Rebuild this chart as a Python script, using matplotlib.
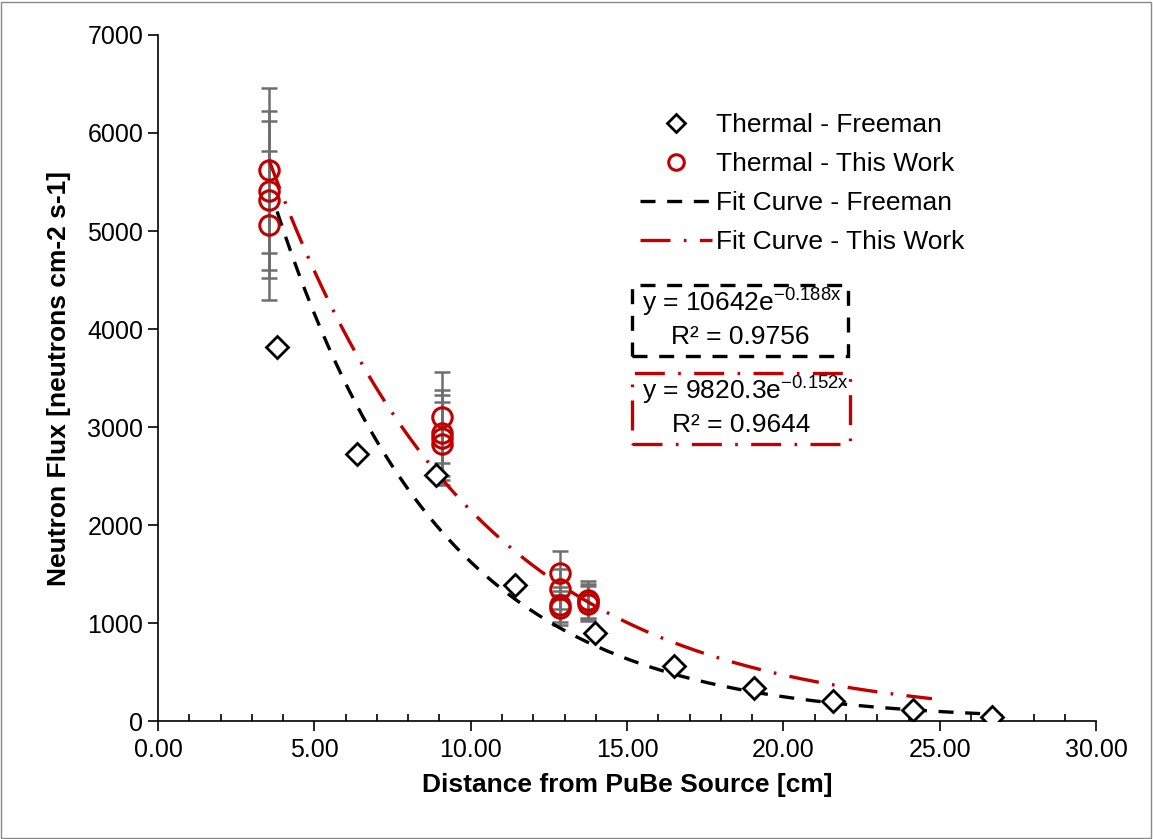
import numpy as np
import matplotlib.pyplot as plt
from matplotlib.patches import Rectangle

plt.rcParams['font.family'] = ['Liberation Sans', 'DejaVu Sans']
plt.rcParams['mathtext.fontset'] = 'custom'
plt.rcParams['mathtext.rm'] = 'Liberation Sans'
plt.rcParams['mathtext.it'] = 'Liberation Sans'

''' Data '''
freeman_x = [3.81, 6.35, 8.89, 11.43, 13.97, 16.51, 19.05, 21.59, 24.13, 26.67]
freeman_y = [3820, 2720, 2510, 1390, 900, 560, 340, 205, 115, 40]

work_x = [3.56, 3.56, 3.56, 3.56, 9.08, 9.08, 9.08, 9.08, 12.85, 12.85, 12.85, 12.85, 13.75, 13.75, 13.75]
work_y = [5620, 5410, 5320, 5060, 3100, 2940, 2890, 2830, 1510, 1345, 1185, 1150, 1240, 1220, 1195]
work_err = [0.15 * v for v in work_y]

fit_freeman = (10642, -0.188)
fit_work = (9820.3, -0.152)
fit_freeman_range = (3.81, 26.67)
fit_work_range = (3.56, 24.75)

red = '#C00000'
gray = '#6E6E6E'

''' Plotting '''
fig = plt.figure(figsize=(11.53, 8.39), dpi=100)
ax = fig.add_axes([0.137, 0.1406, 0.8137, 0.8177])

ax.errorbar(work_x, work_y, yerr=work_err, fmt='none', ecolor=gray, elinewidth=1.8,
            capsize=6, capthick=1.8, zorder=2)

xf = np.linspace(fit_freeman_range[0], fit_freeman_range[1], 200)
ax.plot(xf, fit_freeman[0] * np.exp(fit_freeman[1] * xf), color='black', lw=2.4,
        dashes=(4.5, 3.5), label='Fit Curve - Freeman', zorder=3)
xw = np.linspace(fit_work_range[0], fit_work_range[1], 200)
ax.plot(xw, fit_work[0] * np.exp(fit_work[1] * xw), color=red, lw=2.4,
        dashes=(9, 4, 0.8, 4), label='Fit Curve - This Work', zorder=3)

ax.plot(freeman_x, freeman_y, 'D', ms=11, mfc='white', mec='black', mew=2,
        label='Thermal - Freeman', zorder=4)
ax.plot(work_x, work_y, 'o', ms=14, mfc='none', mec=red, mew=2.2,
        label='Thermal - This Work', zorder=5)

ax.set_xlim(0, 30)
ax.set_ylim(0, 7000)
ax.set_xticks(np.arange(0, 31, 5))
ax.set_xticklabels(['{:.2f}'.format(v) for v in np.arange(0, 31, 5)])
ax.set_xticks(np.arange(0, 31, 1), minor=True)
ax.set_yticks(np.arange(0, 7001, 1000))
ax.tick_params(axis='both', which='major', labelsize=18, direction='out', length=7, width=1.2)
ax.tick_params(axis='x', which='minor', direction='in', length=5, width=1.2)
ax.tick_params(axis='x', pad=5)
for s in ['top', 'right']:
    ax.spines[s].set_visible(False)
for s in ['left', 'bottom']:
    ax.spines[s].set_linewidth(1.2)

ax.set_xlabel('Distance from PuBe Source [cm]', fontsize=19, weight='bold', labelpad=8)
ax.set_ylabel('Neutron Flux [neutrons cm-2 s-1]', fontsize=19, weight='bold', labelpad=12)

h, l = ax.get_legend_handles_labels()
order = [2, 3, 0, 1]
ax.legend([h[i] for i in order], [l[i] for i in order], loc='upper left',
          bbox_to_anchor=(0.489, 0.921), frameon=False, fontsize=19, handlelength=2.7,
          handletextpad=0.15, labelspacing=0.57, markerscale=0.8)

# trendline equation boxes
ax.add_patch(Rectangle((0.5053, 0.532), 0.2303, 0.1036, transform=ax.transAxes,
                       fill=False, ec='black', lw=2.4, linestyle=(0, (4.5, 3.5)), zorder=6))
ax.text(0.5155, 0.610, r'y = 10642e$^{\mathregular{-0.188x}}$', transform=ax.transAxes,
        fontsize=19, ha='left', va='center', zorder=7)
ax.text(0.6205, 0.560, 'R² = 0.9756', transform=ax.transAxes,
        fontsize=19, ha='center', va='center', zorder=7)

ax.add_patch(Rectangle((0.5053, 0.4038), 0.2324, 0.1035, transform=ax.transAxes,
                       fill=False, ec=red, lw=2.4, linestyle=(0, (9, 4, 0.8, 4)), zorder=6))
ax.text(0.5155, 0.481, r'y = 9820.3e$^{\mathregular{-0.152x}}$', transform=ax.transAxes,
        fontsize=19, ha='left', va='center', zorder=7)
ax.text(0.6215, 0.431, 'R² = 0.9644', transform=ax.transAxes,
        fontsize=19, ha='center', va='center', zorder=7)

fig.patches.append(Rectangle((0.001, 0.001), 0.997, 0.997, transform=fig.transFigure,
                             fill=False, ec='#888888', lw=1))

plt.savefig('out.png', dpi=100)
